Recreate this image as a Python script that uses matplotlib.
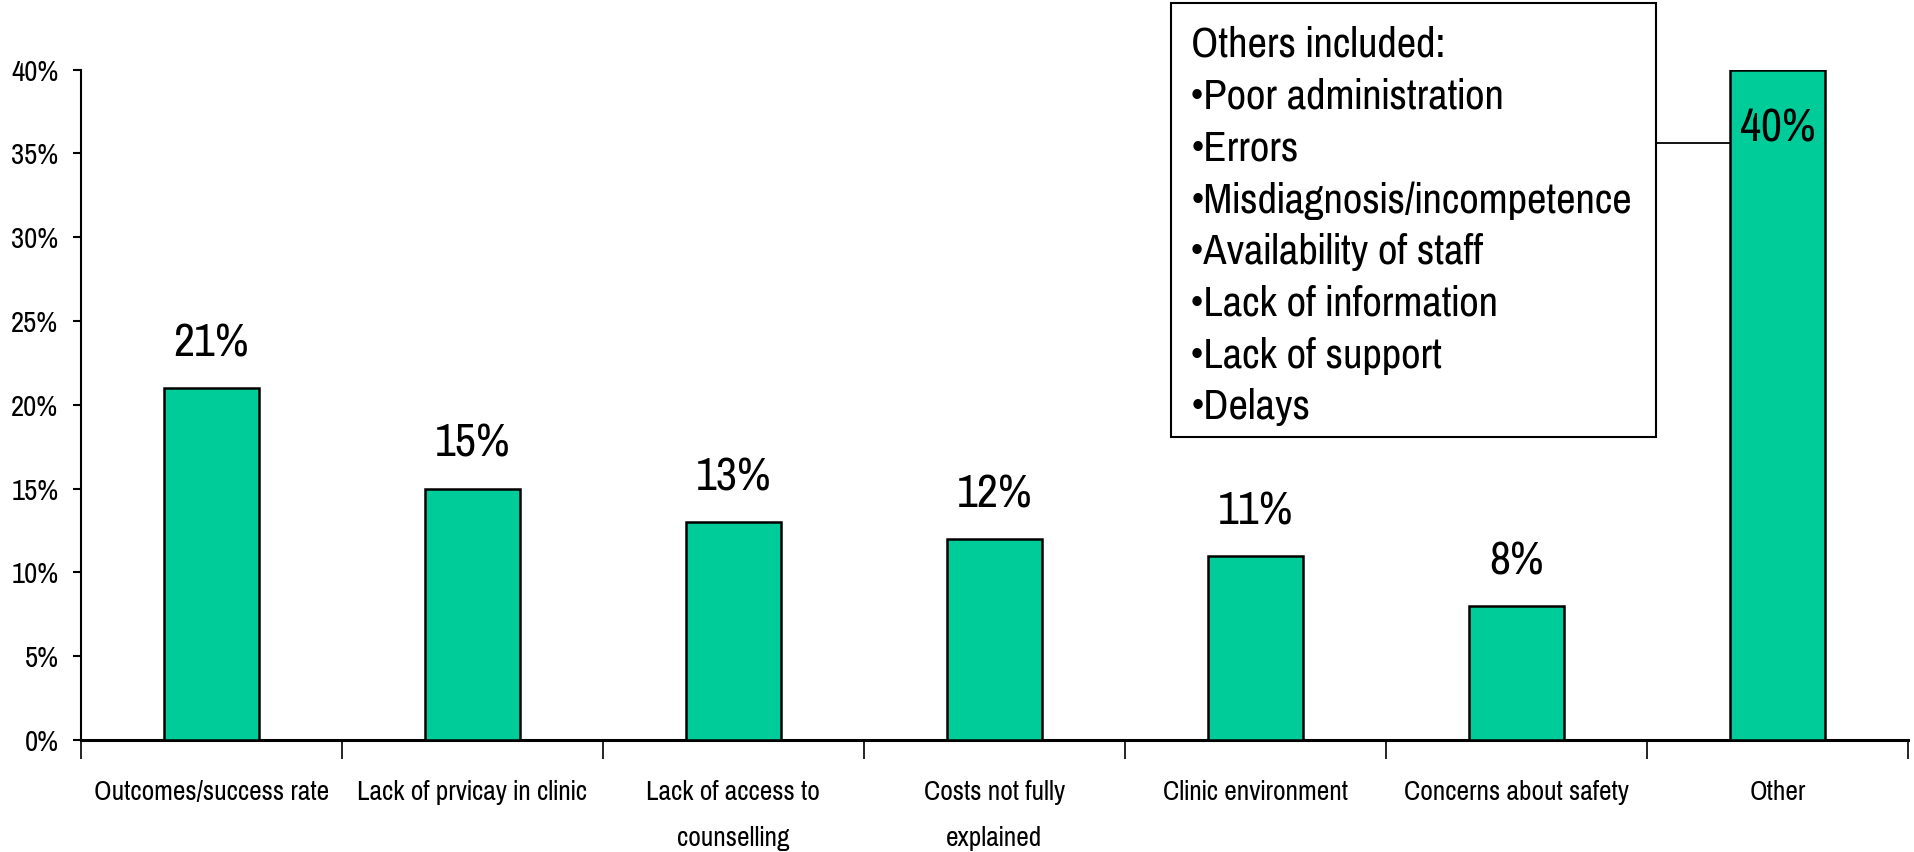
import matplotlib.pyplot as plt
from matplotlib.patches import Rectangle
from matplotlib.ticker import PercentFormatter, FixedLocator

# data
categories = ['Outcomes/success rate', 'Lack of prvicay in clinic', 'Lack of access to\ncounselling',
              'Costs not fully\nexplained', 'Clinic environment', 'Concerns about safety', 'Other']
values = [21, 15, 13, 12, 11, 8, 40]
value_labels = ['21%', '15%', '13%', '12%', '11%', '8%', '40%']
others_items = ['Poor administration', 'Errors', 'Misdiagnosis/incompetence', 'Availability of staff',
                'Lack of information', 'Lack of support', 'Delays']

# narrow sans like the original, first one installed wins
plt.rcParams['font.family'] = ['Liberation Sans Narrow', 'Arial Narrow', 'Pragati Narrow',
                               'Roboto Condensed', 'DejaVu Sans']

fig = plt.figure(figsize=(19.15, 8.52), dpi=100)
ax = fig.add_axes([0.0421, 0.1315, 0.9542, 0.7868])

bar_w = 0.363
x = list(range(len(categories)))
bars = ax.bar(x, values, width=bar_w, color='#00CC99', edgecolor='black', linewidth=1.8, zorder=3)

ax.set_xlim(-0.5, len(categories) - 0.5)
ax.set_ylim(0, 40)
ax.yaxis.set_major_formatter(PercentFormatter(decimals=0))
ax.set_yticks(range(0, 41, 5))
ax.tick_params(axis='y', length=6, width=1.5, labelsize=22.5, pad=10)

# labels at category centres, tick marks at category boundaries
ax.set_xticks(x)
ax.set_xticklabels(categories, fontsize=21.5, linespacing=2.05, va='top')
ax.tick_params(axis='x', which='major', length=0, pad=29)
ax.xaxis.set_minor_locator(FixedLocator([i - 0.5 for i in range(len(categories) + 1)]))
ax.tick_params(axis='x', which='minor', length=14, width=1.2, direction='out')

for s in ['top', 'right']:
    ax.spines[s].set_visible(False)
ax.spines['left'].set_linewidth(1.5)
ax.spines['bottom'].set_linewidth(2.2)

# value labels
for i, (v, lab) in enumerate(zip(values, value_labels)):
    if v == max(values):
        ax.annotate(lab, (i, v), xytext=(0, -27), textcoords='offset points',
                    ha='center', va='top', fontsize=36)
    else:
        ax.annotate(lab, (i, v), xytext=(0, 17), textcoords='offset points',
                    ha='center', va='bottom', fontsize=36)

# text box describing "Other"
box_x0, box_x1 = 0.6115, 0.8648
box_y0, box_y1 = 0.487, 0.9965
fig.patches.append(Rectangle((box_x0, box_y0), box_x1 - box_x0, box_y1 - box_y0,
                             transform=fig.transFigure, facecolor='white',
                             edgecolor='black', linewidth=1.5, zorder=5))
box_text = 'Others included:\n' + '\n'.join('\u2022' + t for t in others_items)
fig.text(box_x0 + 0.0105, box_y1 - 0.027, box_text, ha='left', va='top',
         fontsize=33.4, linespacing=1.44, zorder=6)

# connector from box to the "Other" bar
xb = ax.transData.inverted().transform(fig.transFigure.transform((box_x1, 0)))[0]
ax.plot([xb, len(categories) - 1 - bar_w / 2], [35.6, 35.6], color='black', lw=1.3,
        clip_on=False, zorder=4)

fig.savefig('out.png', dpi=100)
